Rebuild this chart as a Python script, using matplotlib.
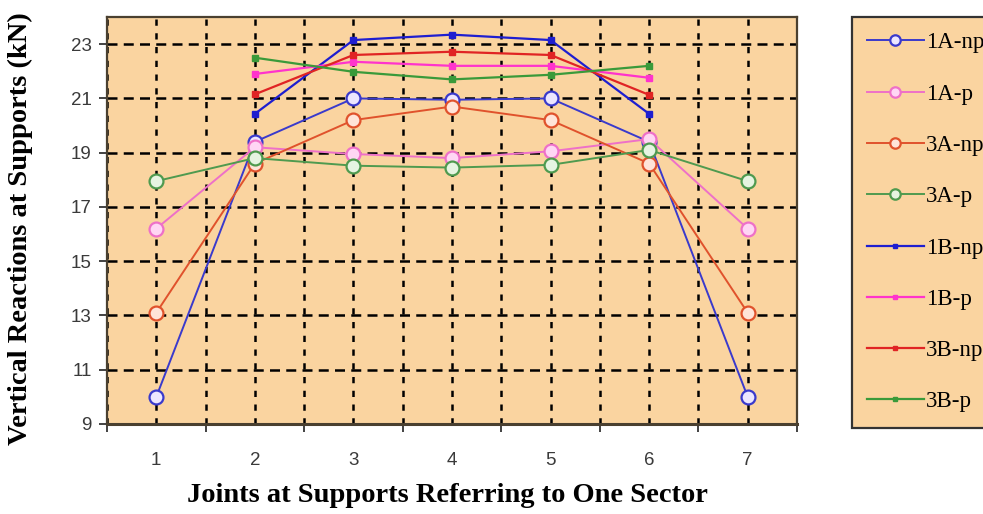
import matplotlib
matplotlib.use("Agg")
import matplotlib.pyplot as plt
from matplotlib.ticker import FixedLocator

joints = [1, 2, 3, 4, 5, 6, 7]
inner = [2, 3, 4, 5, 6]

a1_np = [10.0, 19.4, 21.0, 20.95, 21.0, 19.4, 10.0]
a1_p = [16.2, 19.2, 18.95, 18.8, 19.05, 19.5, 16.2]
a3_np = [13.1, 18.6, 20.2, 20.7, 20.2, 18.6, 13.1]
a3_p = [17.95, 18.8, 18.52, 18.45, 18.55, 19.1, 17.95]
b1_np = [20.43, 23.15, 23.35, 23.15, 20.43]
b1_p = [21.9, 22.35, 22.2, 22.2, 21.76]
b3_np = [21.15, 22.6, 22.72, 22.6, 21.13]
b3_p = [22.5, 21.98, 21.7, 21.87, 22.2]

labels = ["1A-np", "1A-p", "3A-np", "3A-p", "1B-np", "1B-p", "3B-np", "3B-p"]
yticks = [9, 11, 13, 15, 17, 19, 21, 23]

bg = "#fad4a0"
fig = plt.figure(figsize=(9.83, 5.14), dpi=100)
ax = fig.add_axes([107/983, 1-424/514, (797-107)/983, (424-17)/514])
ax.set_facecolor(bg)

handles = []
# A series: open circles
for ys, col, face, lab in [
    (a1_np, "#3a3acc", "#ece6ff", labels[0]),
    (a1_p, "#ee70c8", "#ffd6f4", labels[1]),
    (a3_np, "#e0522c", "#ffe4d8", labels[2]),
    (a3_p, "#4f9a4f", "#e6f4e2", labels[3]),
]:
    h, = ax.plot(joints, ys, color=col, lw=1.4, marker="o", ms=10,
                 mfc=face, mec=col, mew=1.6, label=lab, zorder=5)
    handles.append(h)
# B series: small filled markers
for ys, col, lab in [
    (b1_np, "#1e1ed0", labels[4]),
    (b1_p, "#ff33cc", labels[5]),
    (b3_np, "#e02424", labels[6]),
    (b3_p, "#3a9a3a", labels[7]),
]:
    h, = ax.plot(inner, ys, color=col, lw=1.6, marker="s", ms=4,
                 mfc=col, mec=col, label=lab, zorder=6)
    handles.append(h)

ax.set_xlim(0.5, 7.5)
ax.set_ylim(9, 24)
ax.xaxis.set_major_locator(FixedLocator(joints))
ax.xaxis.set_minor_locator(FixedLocator([0.5 + i for i in range(8)]))
ax.set_yticks(yticks)
ax.tick_params(axis="x", which="major", length=0, pad=20, labelsize=13.5, labelcolor="#3a3a3a")
ax.tick_params(axis="x", which="minor", length=6, width=1.2, direction="out", color="#222222")
ax.tick_params(axis="y", length=6, width=1.2, direction="out", pad=5, labelsize=13.5,
               labelcolor="#3a3a3a", color="#222222")
for lab in ax.get_xticklabels() + ax.get_yticklabels():
    lab.set_family("Liberation Sans")

ax.grid(True, which="both", axis="x", color="black", ls=(0, (2.5, 3)), lw=1.8)
ax.grid(True, which="major", axis="y", color="black", ls=(0, (4, 2.5)), lw=1.8)
ax.set_axisbelow(True)
for s in ax.spines.values():
    s.set_color("#4a4030")
    s.set_linewidth(1.6)
ax.spines["bottom"].set_linewidth(2.2)

ax.set_xlabel("Joints at Supports Referring to One Sector", family="Liberation Serif",
              fontweight="bold", fontsize=20.5)
ax.xaxis.set_label_coords(0.493, -0.145)
ax.set_ylabel("Vertical Reactions at Supports (kN)", family="Liberation Serif",
              fontweight="bold", fontsize=20.5)
ax.yaxis.set_label_coords(-0.107, 0.48)

leg = fig.legend(handles=handles, labels=labels, loc="upper left",
                 bbox_to_anchor=(852/983, 1-17/514), borderaxespad=0,
                 frameon=True, fancybox=False, facecolor=bg, edgecolor="#333333",
                 prop={"family": "Liberation Serif", "size": 16.5},
                 handlelength=2.45, handletextpad=0.1, labelspacing=1.32,
                 borderpad=0.67, markerscale=0.75)
leg.get_frame().set_linewidth(1.6)
leg.get_frame().set_alpha(1)

fig.savefig("out.png", dpi=100)
